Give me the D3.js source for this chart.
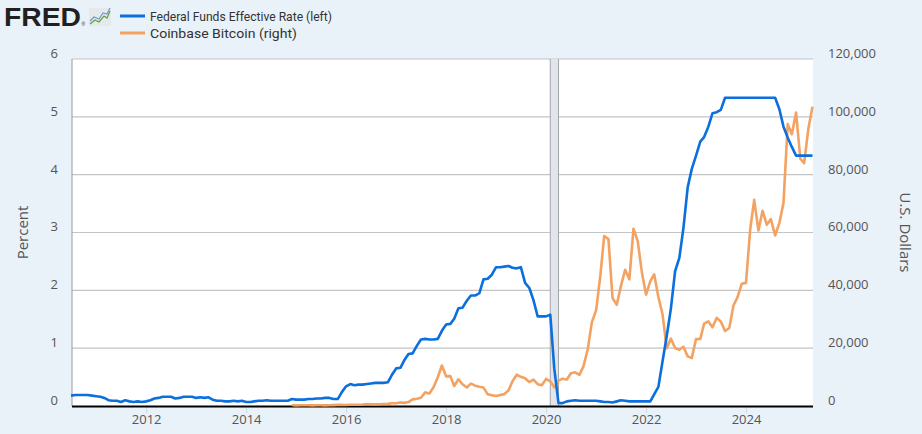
<!DOCTYPE html>
<html>
<head>
<meta charset="utf-8">
<script src="https://cdn.jsdelivr.net/npm/d3@7"></script>
<style>
  html, body { margin: 0; padding: 0; background: #e9f1f9; }
  svg { display: block; }
</style>
</head>
<body>
<svg id="chart" width="922" height="434"></svg>
<script>
// ---------------- DATA ----------------
const fedStart = "2010-07";   // monthly, Federal Funds Effective Rate (percent)
const fedFunds = [
  0.18,0.19,0.19,0.19,0.19,0.18,
  0.17,0.16,0.14,0.10,0.09,0.09,0.07,0.10,0.08,0.07,0.08,0.07,
  0.08,0.10,0.13,0.14,0.16,0.16,0.16,0.13,0.14,0.16,0.16,0.16,
  0.14,0.15,0.14,0.15,0.11,0.09,0.09,0.08,0.08,0.09,0.08,0.09,
  0.07,0.07,0.08,0.09,0.09,0.10,0.09,0.09,0.09,0.09,0.09,0.12,
  0.11,0.11,0.11,0.12,0.12,0.13,0.13,0.14,0.14,0.12,0.12,0.24,
  0.34,0.38,0.36,0.37,0.37,0.38,0.39,0.40,0.40,0.40,0.41,0.54,
  0.65,0.66,0.79,0.90,0.91,1.04,1.15,1.16,1.15,1.15,1.16,1.30,
  1.41,1.42,1.51,1.69,1.70,1.82,1.91,1.91,1.95,2.19,2.20,2.27,
  2.40,2.40,2.41,2.42,2.39,2.38,2.40,2.13,2.04,1.83,1.55,1.55,
  1.55,1.58,0.65,0.05,0.05,0.08,0.09,0.10,0.09,0.09,0.09,0.09,
  0.09,0.08,0.07,0.07,0.06,0.08,0.10,0.09,0.08,0.08,0.08,0.08,
  0.08,0.08,0.20,0.33,0.77,1.21,1.68,2.33,2.56,3.08,3.78,4.10,
  4.33,4.57,4.65,4.83,5.06,5.08,5.12,5.33,5.33,5.33,5.33,5.33,
  5.33,5.33,5.33,5.33,5.33,5.33,5.33,5.33,5.13,4.83,4.64,4.48,
  4.33,4.33,4.33,4.33,4.33
];

const btcStart = "2014-12";   // monthly, Coinbase Bitcoin (U.S. dollars)
const bitcoin = [
  320,
  218,254,244,236,230,263,284,230,236,314,377,430,
  369,437,416,448,531,673,624,575,609,700,742,964,
  970,1190,1080,1350,2300,2480,2870,4700,4340,6450,9950,14000,
  10230,10330,6930,9240,7500,6390,7730,7030,6630,6370,4040,3740,
  3460,3830,4100,5320,8560,10820,10080,9600,8290,9150,7550,7200,
  9350,8540,6440,8780,9450,9140,11350,11650,10780,13800,19700,28990,
  33110,45140,58800,57720,37300,35040,41460,47130,43790,61320,57000,46300,
  38480,43180,45540,37700,31790,19930,23300,20050,19430,20490,17170,16550,
  23140,23150,28470,29250,27220,30480,29230,25940,26970,34650,37720,42270,
  42580,61180,71290,60670,67530,62680,64630,58970,63330,70220,97500,94000,
  101500,85500,84000,96000,103500
];

const recessions = [["2020-02-01", "2020-04-01"]];
const xTickYears = [2012, 2014, 2016, 2018, 2020, 2022, 2024];
const leftTicks = [0, 1, 2, 3, 4, 5, 6];
const rightTicks = [0, 20000, 40000, 60000, 80000, 100000, 120000];
const seriesNames = ["Federal Funds Effective Rate (left)", "Coinbase Bitcoin (right)"];
const seriesColors = ["#0b6fde", "#f4a261"];
const xDomain = ["2010-07-01", "2025-05-01"];

// ---------------- HELPERS ----------------
const parseMonth = d3.timeParse("%Y-%m");
function monthly(start, values) {
  const s = parseMonth(start);
  return values.map((v, i) => ({ date: d3.timeMonth.offset(s, i), value: v }));
}
const fedData = monthly(fedStart, fedFunds);
const btcData = monthly(btcStart, bitcoin);

// ---------------- LAYOUT ----------------
const svg = d3.select("#chart");
const W = 922, H = 434;
const plot = { left: 72, right: 813, top: 59, bottom: 406 };

svg.append("rect").attr("width", W).attr("height", H).attr("fill", "#e9f1f9");

const x = d3.scaleTime()
  .domain(xDomain.map(d => new Date(d + "T00:00:00")))
  .range([71, 812.5]);
const yL = d3.scaleLinear().domain([0, 6]).range([plot.bottom, plot.top]);
const yR = d3.scaleLinear().domain([0, 120000]).range([plot.bottom, plot.top]);

// plot background
svg.append("rect")
  .attr("x", plot.left).attr("y", plot.top)
  .attr("width", plot.right - plot.left).attr("height", plot.bottom - plot.top)
  .attr("fill", "#ffffff");

// gridlines
svg.append("g").selectAll("line").data(leftTicks.filter(d => d > 0)).join("line")
  .attr("x1", plot.left).attr("x2", plot.right)
  .attr("y1", d => yL(d)).attr("y2", d => yL(d))
  .attr("stroke", "#c4c4c4").attr("stroke-width", 1.2);

// recession shading
recessions.forEach(([a, b]) => {
  const x0 = x(new Date(a + "T00:00:00")), x1 = x(new Date(b + "T00:00:00"));
  svg.append("rect").attr("x", x0).attr("y", plot.top)
    .attr("width", x1 - x0).attr("height", plot.bottom - plot.top)
    .attr("fill", "#e1e6ec");
  [x0, x1].forEach(xx => svg.append("line")
    .attr("x1", xx).attr("x2", xx).attr("y1", plot.top).attr("y2", plot.bottom)
    .attr("stroke", "#a6a6a6").attr("stroke-width", 1));
});

// left border
svg.append("line").attr("x1", plot.left).attr("x2", plot.left)
  .attr("y1", plot.top).attr("y2", plot.bottom)
  .attr("stroke", "#9a9a9a").attr("stroke-width", 1);

// x axis
const xAxis = d3.axisBottom(x)
  .tickValues(xTickYears.map(y => new Date(y, 0, 1)))
  .tickFormat(d3.timeFormat("%Y"))
  .tickSize(7).tickSizeOuter(0);
const gx = svg.append("g").attr("transform", `translate(0,${plot.bottom})`).call(xAxis);
gx.select(".domain").remove();
gx.selectAll(".tick line").attr("stroke", "#cfd6de").attr("stroke-width", 1);
gx.selectAll(".tick text")
  .attr("y", 9).attr("dy", "0.71em")
  .attr("fill", "#555").attr("font-size", 13)
  .attr("font-family", "'Open Sans', sans-serif");

// left axis
const gl = svg.append("g").attr("transform", `translate(${plot.left},0)`)
  .call(d3.axisLeft(yL).tickValues(leftTicks).tickSize(0).tickFormat(d3.format("d")));
gl.select(".domain").remove();
gl.selectAll(".tick text")
  .attr("x", -14).attr("dy", "-0.12em")
  .attr("fill", "#555").attr("font-size", 13)
  .attr("font-family", "'Open Sans', sans-serif");

// right axis
const gr = svg.append("g").attr("transform", `translate(${plot.right},0)`)
  .call(d3.axisRight(yR).tickValues(rightTicks).tickSize(0).tickFormat(d3.format(",")));
gr.select(".domain").remove();
gr.selectAll(".tick text")
  .attr("x", 15).attr("dy", "-0.12em")
  .attr("fill", "#555").attr("font-size", 13)
  .attr("font-family", "'Open Sans', sans-serif");

// axis titles
svg.append("text")
  .attr("transform", `translate(28,${(plot.top + plot.bottom) / 2 + 0}) rotate(-90)`)
  .attr("text-anchor", "middle")
  .attr("fill", "#555").attr("font-size", 15)
  .attr("font-family", "'Open Sans', sans-serif")
  .text("Percent");
svg.append("text")
  .attr("transform", `translate(900,${(plot.top + plot.bottom) / 2}) rotate(90)`)
  .attr("text-anchor", "middle")
  .attr("fill", "#555").attr("font-size", 15)
  .attr("font-family", "'Open Sans', sans-serif")
  .text("U.S. Dollars");

// x axis baseline
svg.append("line").attr("x1", plot.left).attr("x2", plot.right)
  .attr("y1", plot.bottom + 0.5).attr("y2", plot.bottom + 0.5)
  .attr("stroke", "#000").attr("stroke-width", 2);

// series
const clip = svg.append("clipPath").attr("id", "clip").append("rect")
  .attr("x", plot.left).attr("y", plot.top - 5)
  .attr("width", plot.right - plot.left + 2).attr("height", plot.bottom - plot.top + 5);

const lineL = d3.line().x(d => x(d.date)).y(d => yL(d.value));
const lineR = d3.line().x(d => x(d.date)).y(d => yR(d.value));

svg.append("path").datum(btcData)
  .attr("d", lineR).attr("fill", "none")
  .attr("stroke", seriesColors[1]).attr("stroke-width", 2.6)
  .attr("stroke-linejoin", "round");
svg.append("path").datum(fedData)
  .attr("d", lineL).attr("fill", "none")
  .attr("stroke", seriesColors[0]).attr("stroke-width", 2.6)
  .attr("stroke-linejoin", "round");

// ---------------- HEADER / LEGEND ----------------
svg.append("text").attr("x", 4).attr("y", 26)
  .attr("font-family", "'Liberation Sans', Arial, sans-serif")
  .attr("font-weight", 900).attr("font-size", 25)
  .attr("textLength", 77).attr("lengthAdjust", "spacingAndGlyphs")
  .attr("fill", "#231f20").text("FRED");
svg.append("text").attr("x", 81.5).attr("y", 26)
  .attr("font-family", "'Liberation Sans', Arial, sans-serif")
  .attr("font-size", 5).attr("fill", "#231f20").text("®");
// small chart icon
const icon = svg.append("g");
icon.append("rect").attr("x", 89).attr("y", 8).attr("width", 22).attr("height", 18)
  .attr("fill", "#e6e9ec");
icon.append("polyline").attr("points", "90,24 95,20 99,22 104,16 107,18 110,11")
  .attr("fill", "none").attr("stroke", "#5fa041").attr("stroke-width", 1.2);
icon.append("polyline").attr("points", "90,21 94,17 99,19 103,13 107,14 110,8")
  .attr("fill", "none").attr("stroke", "#6d9ad0").attr("stroke-width", 1.2);

const legend = svg.append("g");
seriesNames.forEach((name, i) => {
  const yy = 16 + i * 17;
  legend.append("line").attr("x1", 120).attr("x2", 145).attr("y1", yy).attr("y2", yy)
    .attr("stroke", seriesColors[i]).attr("stroke-width", 3);
  legend.append("text").attr("x", 150).attr("y", yy).attr("dy", "0.36em")
    .attr("font-family", "Roboto, sans-serif").attr("font-size", 13.5)
    .attr("fill", "#333")
    .attr("textLength", i === 0 ? 182 : 147).attr("lengthAdjust", "spacingAndGlyphs")
    .text(name);
});
</script>
</body>
</html>
